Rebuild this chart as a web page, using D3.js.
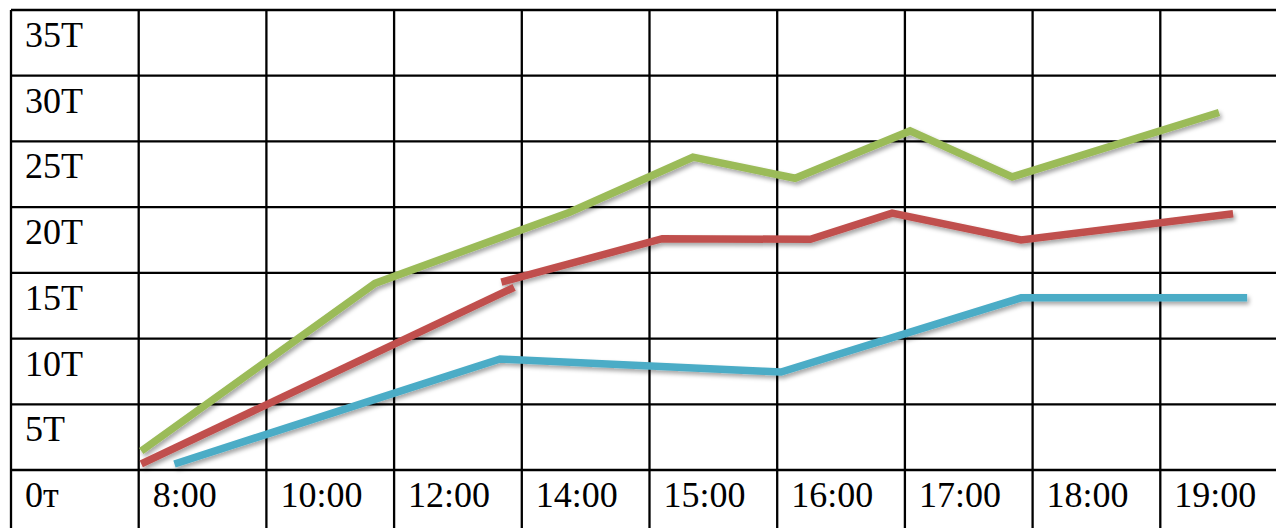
<!DOCTYPE html>
<html>
<head>
<meta charset="utf-8">
<script src="https://cdn.jsdelivr.net/npm/d3@7"></script>
<style>
  html, body { margin: 0; padding: 0; background: #fff; }
  svg { display: block; }
</style>
</head>
<body>
<svg id="chart" width="1276" height="528"></svg>
<script>
// Time slots along the bottom row of the table
const times = ["8:00", "10:00", "12:00", "14:00", "15:00", "16:00", "17:00", "18:00", "19:00"];
// Row labels, bottom to top (one per 5-unit band)
const rowLabels = ["0т", "5T", "10T", "15T", "20T", "25T", "30T", "35T"];
const rowStep = 5;

// Series: [position along the time slots, value]
const greenSeries = [[0.02, 1.45], [1.85, 14.2], [3.37, 19.6], [4.34, 23.8], [5.14, 22.2], [6.04, 25.8], [6.84, 22.3], [8.46, 27.2]];
const redSeriesA  = [[0.02, 0.46], [2.94, 13.9]];
const redSeriesB  = [[2.84, 14.3], [4.10, 17.6], [5.26, 17.55], [5.90, 19.55], [6.91, 17.5], [8.57, 19.5]];
const blueSeries  = [[0.28, 0.46], [2.83, 8.45], [5.03, 7.45], [6.91, 13.1], [8.68, 13.1]];

const svg = d3.select("#chart");

// Column -1 holds the row labels, columns 0..8 the time slots
const x = d3.scaleLinear().domain([-1, times.length]).range([11, 1288]);
const y = d3.scaleLinear().domain([0, 35]).range([470, 10]);
const rowH = y(0) - y(rowStep);

// Drop shadow for the series lines
const defs = svg.append("defs");
const f = defs.append("filter").attr("id", "shadow")
  .attr("x", "-5%").attr("y", "-20%").attr("width", "110%").attr("height", "140%");
f.append("feDropShadow").attr("dx", 2).attr("dy", 3).attr("stdDeviation", 2)
  .attr("flood-color", "#000").attr("flood-opacity", 0.35);

const grid = svg.append("g").attr("stroke", "#000").attr("stroke-width", 2.3);

// Horizontal table rules, one per band
const hVals = d3.range(0, 35 + rowStep, rowStep);
grid.selectAll("line.h").data(hVals).join("line").attr("class", "h")
  .attr("x1", x(-1)).attr("x2", x(times.length))
  .attr("y1", d => y(d)).attr("y2", d => y(d));

// Vertical table rules, running down through the label row
const vVals = d3.range(-1, times.length + 1);
grid.selectAll("line.v").data(vVals).join("line").attr("class", "v")
  .attr("x1", d => x(d)).attr("x2", d => x(d))
  .attr("y1", y(35)).attr("y2", y(0) + rowH);

const font = "'Liberation Serif', 'Times New Roman', serif";

// Row labels: "5T".."35T" sit in the band just below their value's rule,
// "0т" sits in the bottom row under the zero rule
svg.append("g").selectAll("text").data(rowLabels).join("text")
  .attr("x", x(-1) + 14)
  .attr("y", (d, i) => y(i * rowStep) + 37)
  .attr("font-family", font).attr("font-size", 36).attr("fill", "#000")
  .text(d => d);

// Time labels in the bottom row
svg.append("g").selectAll("text").data(times).join("text")
  .attr("x", (d, i) => x(i) + 14)
  .attr("y", y(0) + 37)
  .attr("font-family", font).attr("font-size", 36).attr("fill", "#000")
  .text(d => d);

// Series lines
const line = d3.line().x(d => x(d[0])).y(d => y(d[1]));
const series = [
  { data: greenSeries, color: "#9BBB59" },
  { data: redSeriesA,  color: "#C0504D" },
  { data: redSeriesB,  color: "#C0504D" },
  { data: blueSeries,  color: "#4BACC6" }
];
svg.append("g").attr("filter", "url(#shadow)")
  .selectAll("path").data(series).join("path")
  .attr("d", d => line(d.data))
  .attr("fill", "none")
  .attr("stroke", d => d.color)
  .attr("stroke-width", 7.5)
  .attr("stroke-linejoin", "miter")
  .attr("stroke-linecap", "butt");
</script>
</body>
</html>
